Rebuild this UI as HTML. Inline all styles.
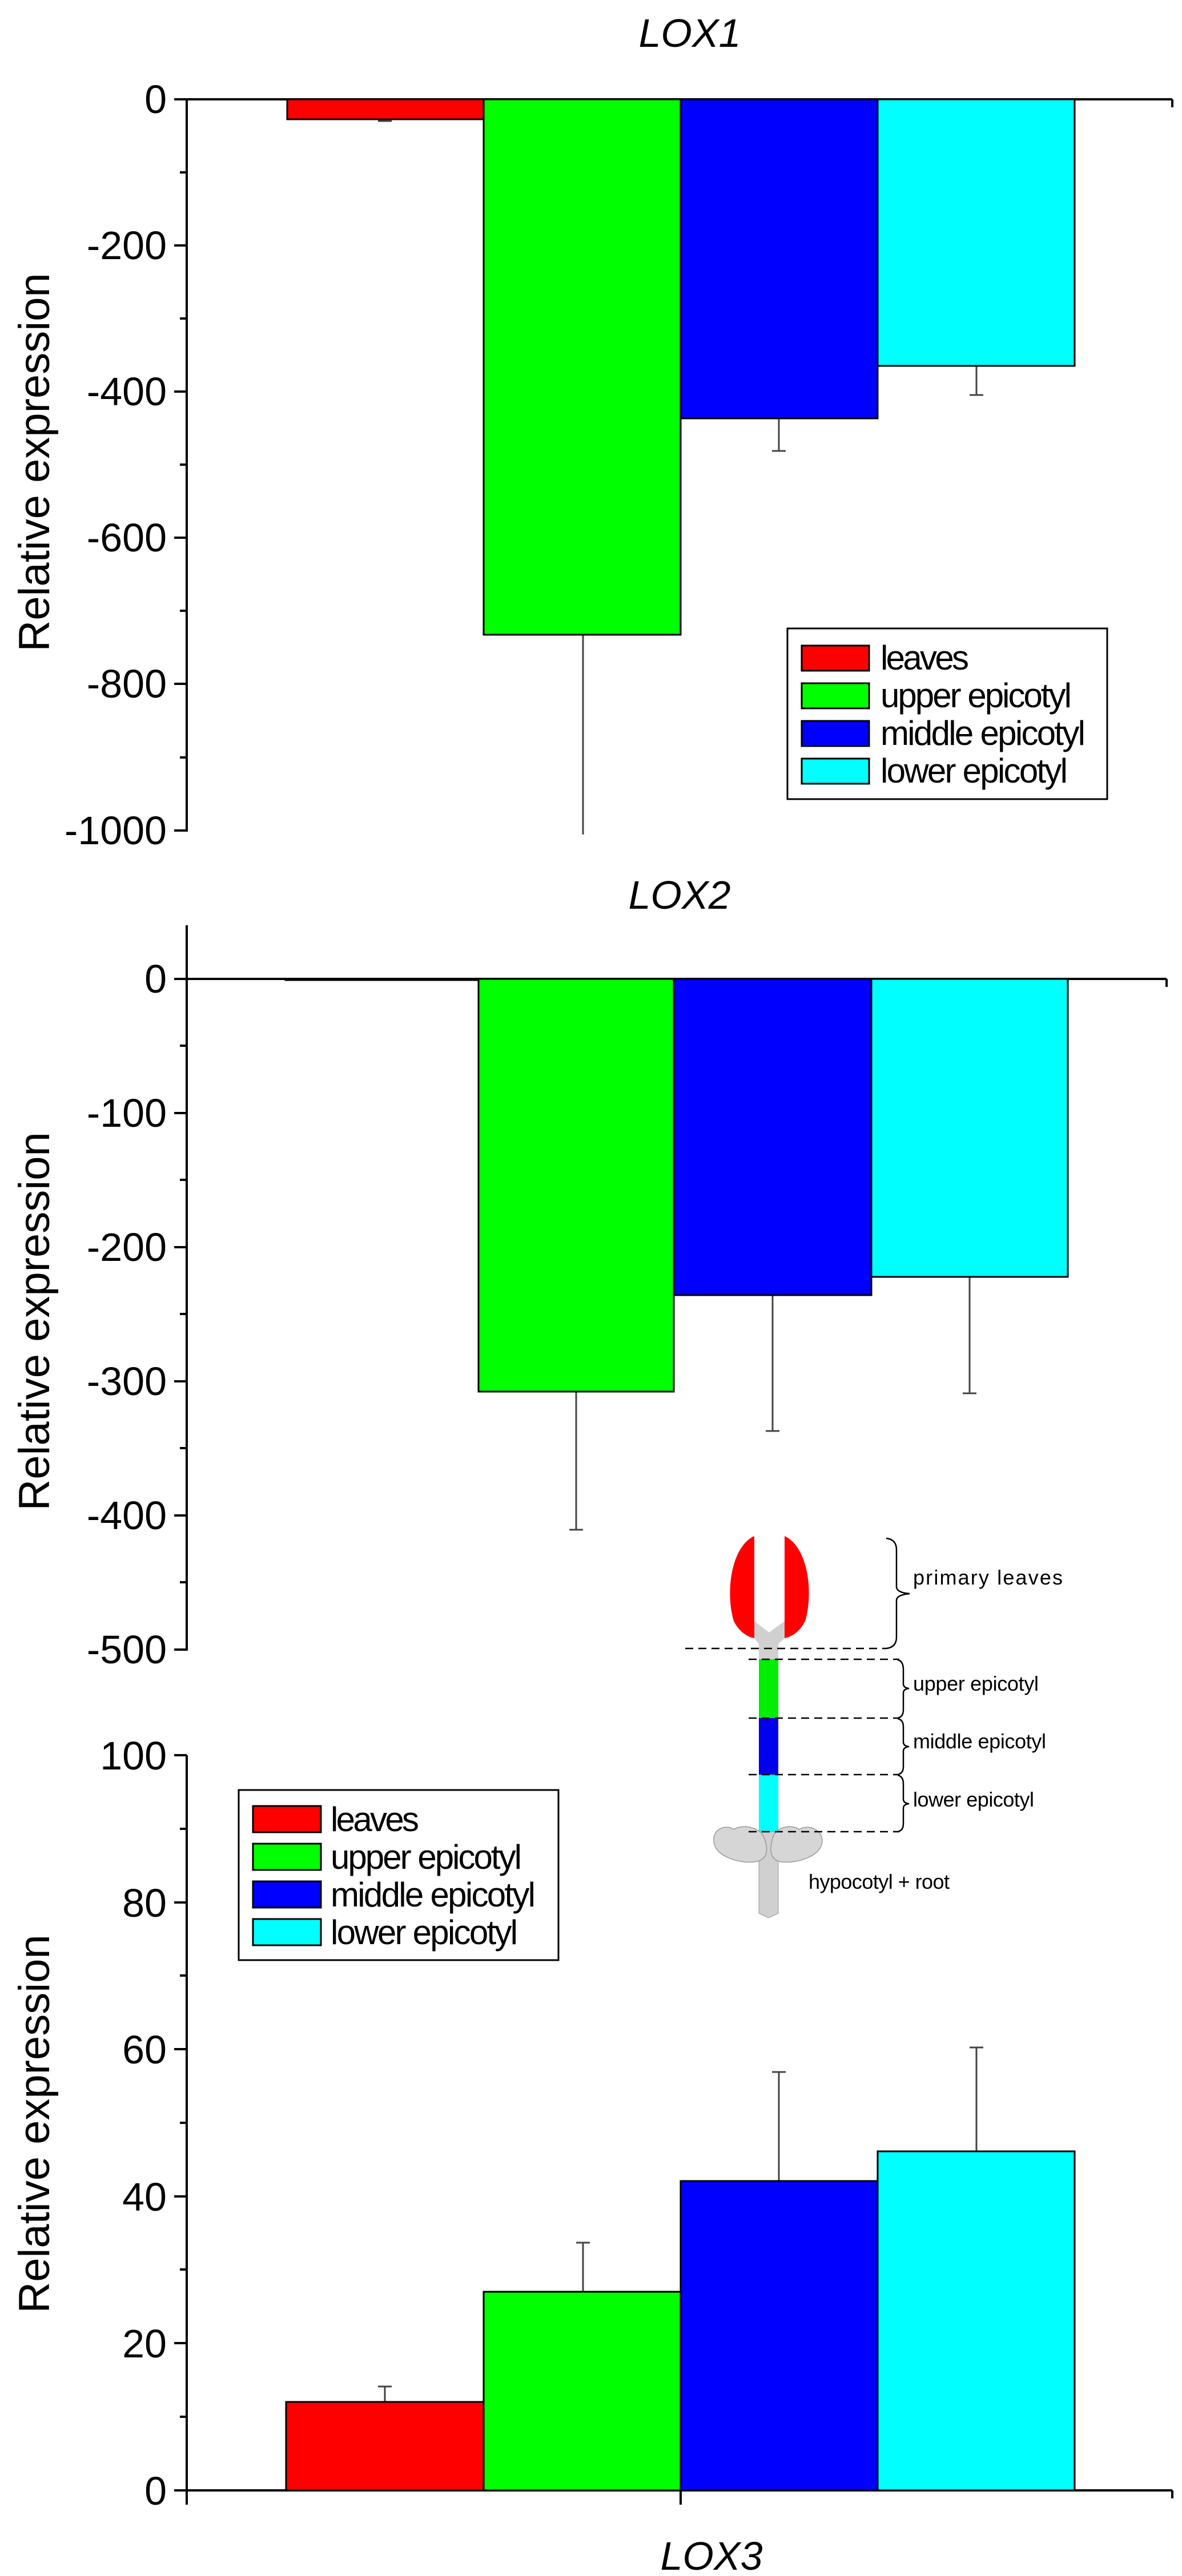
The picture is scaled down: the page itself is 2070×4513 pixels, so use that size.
<!DOCTYPE html>
<html><head><meta charset="utf-8"><style>
html,body{margin:0;padding:0;background:#fff;}
svg{display:block;}
text{font-family:"Liberation Sans",Arial,sans-serif;fill:#000;}
</style></head><body>
<svg width="2070" height="4513" viewBox="0 0 2070 4513" xmlns="http://www.w3.org/2000/svg">
<!-- ============ LOX1 ============ -->
<text x="1208" y="82" font-size="70" font-style="italic" text-anchor="middle">LOX1</text>
<g stroke="#000" stroke-width="4" fill="none">
<line x1="327" y1="172" x2="327" y2="1457"/>
<line x1="305" y1="174" x2="2053" y2="174"/>
<line x1="2053" y1="174" x2="2053" y2="188"/>
</g>
<g stroke="#000" stroke-width="4">
<line x1="305" y1="174" x2="327" y2="174"/><line x1="305" y1="430" x2="327" y2="430"/><line x1="305" y1="686" x2="327" y2="686"/><line x1="305" y1="942" x2="327" y2="942"/><line x1="305" y1="1198" x2="327" y2="1198"/><line x1="305" y1="1455" x2="327" y2="1455"/>
<line x1="315" y1="302" x2="327" y2="302"/><line x1="315" y1="558" x2="327" y2="558"/><line x1="315" y1="814" x2="327" y2="814"/><line x1="315" y1="1070" x2="327" y2="1070"/><line x1="315" y1="1327" x2="327" y2="1327"/>
</g>
<g font-size="70" text-anchor="end">
<text x="292" y="198">0</text><text x="292" y="454">-200</text><text x="292" y="710">-400</text><text x="292" y="966">-600</text><text x="292" y="1222">-800</text><text x="292" y="1479">-1000</text>
</g>
<text transform="translate(86,810) rotate(-90)" font-size="76" text-anchor="middle">Relative expression</text>
<g stroke="#444" stroke-width="3">
<line x1="674" y1="209" x2="674" y2="212"/><line x1="662" y1="212" x2="686" y2="212"/>
<line x1="1021" y1="1112" x2="1021" y2="1462"/>
<line x1="1364" y1="733" x2="1364" y2="790"/><line x1="1352" y1="790" x2="1376" y2="790"/>
<line x1="1710" y1="641" x2="1710" y2="692"/><line x1="1698" y1="692" x2="1722" y2="692"/>
</g>
<g stroke="#000" stroke-width="3">
<rect x="503" y="174" width="344" height="35" fill="#ff0000"/>
<rect x="847" y="174" width="345" height="938" fill="#00ff00"/>
<rect x="1192" y="174" width="345" height="559" fill="#0000ff"/>
<rect x="1537" y="174" width="345" height="467" fill="#00ffff"/>
</g>
<rect x="1379" y="1101" width="560" height="299" fill="#fff" stroke="#000" stroke-width="3"/>
<g stroke="#000" stroke-width="3">
<rect x="1404" y="1131" width="118" height="44" fill="#ff0000"/>
<rect x="1404" y="1197" width="118" height="44" fill="#00ff00"/>
<rect x="1404" y="1263" width="118" height="44" fill="#0000ff"/>
<rect x="1404" y="1329" width="118" height="44" fill="#00ffff"/>
</g>
<g font-size="60">
<text x="1542" y="1173" textLength="155">leaves</text>
<text x="1542" y="1239" textLength="335">upper epicotyl</text>
<text x="1542" y="1305" textLength="359">middle epicotyl</text>
<text x="1542" y="1371" textLength="328">lower epicotyl</text>
</g>
<!-- ============ LOX2 ============ -->
<text x="1190" y="1592" font-size="70" font-style="italic" text-anchor="middle">LOX2</text>
<g stroke="#000" stroke-width="4" fill="none">
<line x1="327" y1="1621" x2="327" y2="2892"/>
<line x1="305" y1="1715" x2="2043" y2="1715"/>
<line x1="2043" y1="1715" x2="2043" y2="1729"/>
</g>
<g stroke="#000" stroke-width="4">
<line x1="305" y1="1715" x2="327" y2="1715"/><line x1="305" y1="1950" x2="327" y2="1950"/><line x1="305" y1="2185" x2="327" y2="2185"/><line x1="305" y1="2420" x2="327" y2="2420"/><line x1="305" y1="2655" x2="327" y2="2655"/><line x1="305" y1="2890" x2="327" y2="2890"/>
<line x1="315" y1="1832" x2="327" y2="1832"/><line x1="315" y1="2067" x2="327" y2="2067"/><line x1="315" y1="2302" x2="327" y2="2302"/><line x1="315" y1="2537" x2="327" y2="2537"/><line x1="315" y1="2772" x2="327" y2="2772"/>
</g>
<g font-size="70" text-anchor="end">
<text x="292" y="1739">0</text><text x="292" y="1974">-100</text><text x="292" y="2209">-200</text><text x="292" y="2444">-300</text><text x="292" y="2679">-400</text><text x="292" y="2914">-500</text>
</g>
<text transform="translate(86,2315) rotate(-90)" font-size="76" text-anchor="middle">Relative expression</text>
<g stroke="#444" stroke-width="3">
<line x1="1009" y1="2438" x2="1009" y2="2680"/><line x1="997" y1="2680" x2="1021" y2="2680"/>
<line x1="1353" y1="2269" x2="1353" y2="2507"/><line x1="1341" y1="2507" x2="1365" y2="2507"/>
<line x1="1698" y1="2237" x2="1698" y2="2441"/><line x1="1686" y1="2441" x2="1710" y2="2441"/>
</g>
<g stroke="#000" stroke-width="3">
<rect x="500" y="1715" width="338" height="2" fill="#ff0000"/>
<rect x="838" y="1715" width="342" height="723" fill="#00ff00"/>
<rect x="1180" y="1715" width="346" height="554" fill="#0000ff"/>
<rect x="1526" y="1715" width="344" height="522" fill="#00ffff"/>
</g>
<!-- ============ Diagram ============ -->
<g>
<path d="M1321 2691 C1280 2710 1270 2790 1285 2840 C1295 2860 1310 2868 1321 2870 Z" fill="#ff0000"/>
<path d="M1374 2691 C1415 2710 1425 2790 1410 2840 C1400 2860 1385 2868 1374 2870 Z" fill="#ff0000"/>
<path d="M1321 2840 L1347 2860 L1374 2840 L1374 2870 L1363 2880 L1363 2907 L1329 2907 L1329 2880 L1321 2870 Z" fill="#d0d0d0"/>
<rect x="1329" y="2907" width="34" height="103" fill="#00ee00"/>
<rect x="1329" y="3010" width="34" height="99" fill="#0000ee"/>
<rect x="1329" y="3109" width="34" height="100" fill="#00ffff"/>
<path d="M1329 3209 L1363 3209 L1363 3352 L1346 3360 L1329 3352 Z" fill="#d0d0d0" stroke="#999" stroke-width="1"/>
<path d="M1340 3225 C1335 3200 1300 3195 1285 3205 C1270 3195 1248 3205 1250 3225 C1250 3250 1290 3265 1320 3262 C1345 3260 1345 3240 1340 3225 Z" fill="#d6d6d6" stroke="#999" stroke-width="1.5"/>
<path d="M1352 3225 C1355 3200 1385 3195 1400 3205 C1415 3195 1440 3205 1440 3225 C1440 3250 1400 3265 1370 3262 C1348 3260 1348 3240 1352 3225 Z" fill="#d6d6d6" stroke="#999" stroke-width="1.5"/>
<g stroke="#000" stroke-width="2.5" stroke-dasharray="14 9" fill="none">
<line x1="1200" y1="2888" x2="1553" y2="2888"/>
<line x1="1311" y1="2907" x2="1575" y2="2907"/>
<line x1="1311" y1="3010" x2="1575" y2="3010"/>
<line x1="1311" y1="3109" x2="1575" y2="3109"/>
<line x1="1311" y1="3209" x2="1575" y2="3209"/>
</g>
<g stroke="#000" stroke-width="2.5" fill="none">
<path d="M1552 2695 Q1570 2697 1570 2715 L1570 2780 Q1570 2790 1593 2792 Q1570 2794 1570 2804 L1570 2868 Q1570 2886 1552 2888"/>
<path d="M1572 2908 Q1582 2910 1582 2925 L1582 2950 Q1582 2957 1592 2958 Q1582 2959 1582 2966 L1582 2995 Q1582 3008 1572 3010"/>
<path d="M1572 3011 Q1582 3013 1582 3025 L1582 3052 Q1582 3059 1592 3060 Q1582 3061 1582 3068 L1582 3095 Q1582 3107 1572 3109"/>
<path d="M1572 3110 Q1582 3112 1582 3125 L1582 3152 Q1582 3159 1592 3160 Q1582 3161 1582 3168 L1582 3195 Q1582 3207 1572 3209"/>
</g>
<g font-size="36">
<text x="1599" y="2776" textLength="262">primary leaves</text>
<text x="1599" y="2962" textLength="220">upper epicotyl</text>
<text x="1599" y="3063" textLength="233">middle epicotyl</text>
<text x="1599" y="3165" textLength="212">lower epicotyl</text>
<text x="1416" y="3309" textLength="247">hypocotyl + root</text>
</g>
</g>
<!-- ============ LOX3 ============ -->
<g stroke="#000" stroke-width="4" fill="none">
<line x1="327" y1="3075" x2="327" y2="4365"/>
<line x1="305" y1="4363" x2="2053" y2="4363"/>
<line x1="2053" y1="4363" x2="2053" y2="4377"/>
<line x1="1192" y1="4363" x2="1192" y2="4388"/>
<line x1="327" y1="4363" x2="327" y2="4388"/>
</g>
<g stroke="#000" stroke-width="4">
<line x1="305" y1="3075" x2="327" y2="3075"/><line x1="305" y1="3333" x2="327" y2="3333"/><line x1="305" y1="3590" x2="327" y2="3590"/><line x1="305" y1="3848" x2="327" y2="3848"/><line x1="305" y1="4105" x2="327" y2="4105"/><line x1="305" y1="4363" x2="327" y2="4363"/>
<line x1="315" y1="3204" x2="327" y2="3204"/><line x1="315" y1="3461" x2="327" y2="3461"/><line x1="315" y1="3719" x2="327" y2="3719"/><line x1="315" y1="3976" x2="327" y2="3976"/><line x1="315" y1="4234" x2="327" y2="4234"/>
</g>
<g font-size="70" text-anchor="end">
<text x="292" y="3100">100</text><text x="292" y="3358">80</text><text x="292" y="3615">60</text><text x="292" y="3873">40</text><text x="292" y="4130">20</text><text x="292" y="4388">0</text>
</g>
<text transform="translate(86,3721) rotate(-90)" font-size="76" text-anchor="middle">Relative expression</text>
<g stroke="#444" stroke-width="3">
<line x1="674" y1="4208" x2="674" y2="4181"/><line x1="662" y1="4181" x2="686" y2="4181"/>
<line x1="1021" y1="4015" x2="1021" y2="3929"/><line x1="1009" y1="3929" x2="1033" y2="3929"/>
<line x1="1364" y1="3821" x2="1364" y2="3630"/><line x1="1352" y1="3630" x2="1376" y2="3630"/>
<line x1="1710" y1="3769" x2="1710" y2="3587"/><line x1="1698" y1="3587" x2="1722" y2="3587"/>
</g>
<g stroke="#000" stroke-width="3">
<rect x="501" y="4208" width="346" height="155" fill="#ff0000"/>
<rect x="847" y="4015" width="345" height="348" fill="#00ff00"/>
<rect x="1192" y="3821" width="345" height="542" fill="#0000ff"/>
<rect x="1537" y="3769" width="345" height="594" fill="#00ffff"/>
</g>
<rect x="418" y="3136" width="560" height="298" fill="#fff" stroke="#000" stroke-width="3"/>
<g stroke="#000" stroke-width="3">
<rect x="443" y="3164" width="119" height="46" fill="#ff0000"/>
<rect x="443" y="3230" width="119" height="46" fill="#00ff00"/>
<rect x="443" y="3296" width="119" height="46" fill="#0000ff"/>
<rect x="443" y="3362" width="119" height="46" fill="#00ffff"/>
</g>
<g font-size="60">
<text x="579" y="3208" textLength="155">leaves</text>
<text x="579" y="3274" textLength="335">upper epicotyl</text>
<text x="579" y="3340" textLength="359">middle epicotyl</text>
<text x="579" y="3406" textLength="328">lower epicotyl</text>
</g>
<text x="1246" y="4502" font-size="70" font-style="italic" text-anchor="middle">LOX3</text>
</svg>
</body></html>
